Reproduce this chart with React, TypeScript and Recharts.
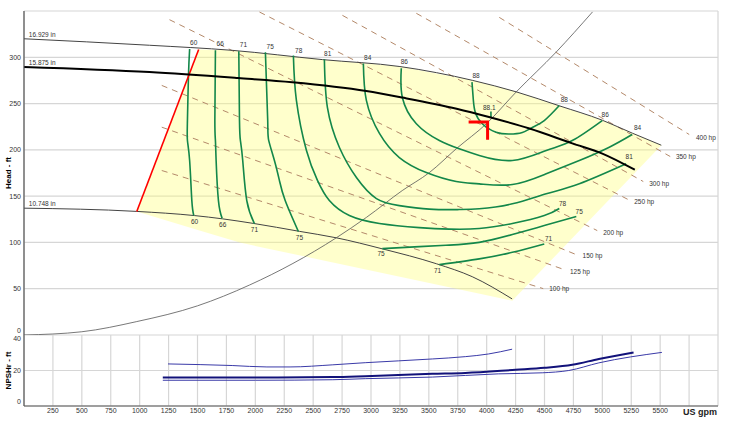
import React from 'react';
import { ComposedChart, Line, Area, Scatter, XAxis, YAxis, CartesianGrid } from 'recharts';

type P = [number, number];

// x = US gpm, y = head ft
const xTicks = [250, 500, 750, 1000, 1250, 1500, 1750, 2000, 2250, 2500, 2750, 3000, 3250, 3500, 3750, 4000, 4250, 4500, 4750, 5000, 5250, 5500, 5750];
const headTicks = [0, 50, 100, 150, 200, 250, 300];
const npshTicks = [0, 20, 40];

// impeller curves
const imp16929: P[] = [[0, 320], [1085, 313], [1800, 307.5], [2580, 297.5], [3250, 290], [3880, 275], [4260, 262.5], [4630, 247.5], [5000, 232], [5260, 218], [5510, 205]];
const imp15875: P[] = [[0, 289.5], [1085, 284], [1850, 277.5], [2320, 273], [2960, 263.5], [3270, 256.5], [3740, 244.5], [4020, 235.5], [4370, 223], [4740, 207], [5000, 196], [5280, 178.5]];
const imp10748: P[] = [[0, 137], [975, 133.5], [1475, 129], [1715, 125.5], [1985, 120.5], [2380, 112], [2700, 105], [3100, 93], [3565, 77], [3875, 63], [4220, 39]];
const systemCurve: P[] = [[0, 0], [500, 3.5], [975, 14.5], [1500, 31.5], [1950, 54], [2700, 105], [2960, 127], [3270, 156], [3505, 175.5], [3740, 201.5], [4000, 228.5], [4255, 262.5], [4600, 305.5], [4915, 349]];
const minFlowLine: P[] = [[975, 133.5], [1510, 308.5]];
const bepMark: P[] = [[3844, 230], [4008, 230], [4008, 211]];
const bepTick: P[] = [[4037, 235], [4037, 241.5]];

// allowed operating region
const regionQ = [975, 1510, 1800, 1865, 2580, 3250, 3880, 4222, 4260, 4630, 5000, 5260, 5510];
const regionLow = [133.5, 113.2, 102.3, 99.8, 80.8, 62.9, 46.1, 37, 42, 90.2, 138.5, 172.4, 205];
const regionHigh = [133.5, 308.5, 307.5, 306.8, 297.5, 290, 275, 264, 262.5, 247.5, 232, 218, 205];

// efficiency contours
const eff60: P[] = [[1432, 309], [1422, 280.4], [1413, 231.7], [1413, 210.1], [1432, 188.5], [1451, 145.2], [1468, 129]];
const eff66: P[] = [[1655, 307.5], [1650, 231.7], [1655, 210], [1661, 188.5], [1681, 145.2], [1713, 126]];
const eff71a: P[] = [[1857, 306.5], [1863, 231.7], [1871, 210], [1891, 188.5], [1926, 145.2], [1992, 120.4]];
const eff71b: P[] = [[3591, 76], [3936, 82.2], [4222, 89.3], [4498, 98.4]];
const eff75a: P[] = [[2087, 305.5], [2107, 231.7], [2116, 210], [2165, 188.5], [2208, 167], [2258, 145.2], [2372, 111.8]];
const eff75b: P[] = [[3098, 93.3], [3418, 95.5], [3677, 97.1], [3936, 100.1], [4222, 108.5], [4498, 118.2], [4775, 127.9]];
const eff78: P[] = [[2329, 302], [2355, 253.5], [2442, 199.3], [2537, 167], [2640, 145.2], [2813, 129], [3073, 120.4], [3418, 116], [3677, 114.4], [3936, 115], [4222, 120.4], [4498, 129], [4628, 136.6]];
const eff81: P[] = [[2597, 297.8], [2623, 245.8], [2727, 202.5], [2874, 170.1], [3047, 147.4], [3245, 139.8], [3504, 136], [3763, 135.5], [3936, 136.3], [4222, 141.7], [4515, 152.5], [4801, 163.3], [5206, 184.9]];
const eff84: P[] = [[2934, 293.4], [2960, 253.5], [3073, 217.7], [3245, 191.7], [3478, 175.5], [3737, 165.8], [3936, 163.3], [4222, 162.5], [4515, 174.1], [4801, 188.5], [5060, 202.9], [5258, 216.6]];
const eff86: P[] = [[3262, 288.2], [3271, 256.6], [3392, 228.2], [3591, 210.1], [3763, 201.1], [3936, 193.9], [4222, 188.5], [4515, 199.3], [4740, 210.1], [4999, 231.7]];
const eff88: P[] = [[3873, 273.2], [3885, 253.5], [3902, 240.4], [3962, 228.2], [4081, 219.1], [4196, 217.1], [4308, 218.8], [4394, 224.2], [4498, 231.7], [4628, 247.9]];

// power lines (hp)
const hp100: P[] = [[1191, 177.7], [4489, 50.1]];
const hp125: P[] = [[1191, 224.5], [4671, 70.6]];
const hp150: P[] = [[1191, 269.6], [4775, 86.8]];
const hp200: P[] = [[1258, 340.6], [4956, 112.8]];
const hp250: P[] = [[2036, 348.9], [5224, 146.3]];
const hp300: P[] = [[2753, 345.3], [5354, 165.8]];
const hp350: P[] = [[3392, 347.5], [5587, 192.8]];
const hp400: P[] = [[4109, 343.1], [5751, 216.6]];

// NPSHr curves
const npshA: P[] = [[1245, 23.7], [1800, 22.8], [2100, 22], [2300, 22], [2670, 23.2], [2950, 24.4], [3530, 26.5], [3815, 27.8], [4015, 29.3], [4220, 32]];
const npshB: P[] = [[1200, 16], [2000, 16], [2670, 16.3], [2950, 16.8], [3530, 18.1], [3815, 18.6], [4250, 20.4], [4500, 21.5], [4740, 23.2], [4970, 26.5], [5270, 30.2]];
const npshC: P[] = [[1200, 14.5], [2000, 14.5], [2670, 14.8], [2950, 15.4], [3530, 16.3], [4100, 18.1], [4480, 18.7], [4710, 20], [4970, 24.3], [5515, 30.2]];

// labels
const effLabels = [
  { q: 1467, h: 315.3, t: '60' }, { q: 1696, h: 314.7, t: '66' }, { q: 1897, h: 313.6, t: '71' },
  { q: 2128, h: 311, t: '75' }, { q: 2375, h: 306.7, t: '78' }, { q: 2626, h: 303.9, t: '81' },
  { q: 2971, h: 299.1, t: '84' }, { q: 3288, h: 294.8, t: '86' }, { q: 3908, h: 279.7, t: '88' },
  { q: 4671, h: 254.1, t: '88' }, { q: 5025, h: 237.9, t: '86' }, { q: 5304, h: 223.4, t: '84' },
  { q: 5232, h: 192.8, t: '81' }, { q: 4656, h: 142.3, t: '78' }, { q: 4800, h: 133.7, t: '75' },
  { q: 4535, h: 104.5, t: '71' }, { q: 1474, h: 122.5, t: '60' }, { q: 1718, h: 119, t: '66' },
  { q: 1992, h: 113.9, t: '71' }, { q: 2381, h: 105.5, t: '75' }, { q: 3087, h: 87.6, t: '75' },
  { q: 3576, h: 69.5, t: '71' }, { q: 4023, h: 245.5, t: '88.1' },
];
const powerLabels = [
  { q: 4541, h: 49.7, t: '100 hp' }, { q: 4720, h: 68.8, t: '125 hp' }, { q: 4829, h: 85.8, t: '150 hp' },
  { q: 5008, h: 111, t: '200 hp' }, { q: 5276, h: 144.5, t: '250 hp' }, { q: 5405, h: 163.9, t: '300 hp' },
  { q: 5636, h: 192.1, t: '350 hp' }, { q: 5809, h: 212.8, t: '400 hp' },
];
const impLabels = [
  { q: 42, h: 324.4, t: '16.929 in' }, { q: 42, h: 293.7, t: '15.875 in' }, { q: 42, h: 141.7, t: '10.748 in' },
];

const pts = (a: P[]) => a.map(([q, h]) => ({ q, h }));
const regionData = regionQ.map((q, i) => ({ q, r: [regionLow[i], regionHigh[i]] }));

const FONT = 'Arial, "Liberation Sans", sans-serif';
const GREEN = '#13874a';
const DASH = '#b4896a';

function curve(key: string, data: P[], stroke: string, width: number, type: any = 'monotone', dash?: string) {
  return (
    <Line key={key} data={pts(data)} dataKey="h" type={type} stroke={stroke} strokeWidth={width}
      strokeDasharray={dash} dot={false} activeDot={false} isAnimationActive={false} />
  );
}

const textShape = (anchor: 'start' | 'middle', size: number) => (props: any) => (
  <text x={props.cx} y={props.cy} dy="0.35em" textAnchor={anchor} fontSize={size} fill="#333" fontFamily={FONT}>
    {props.payload.t}
  </text>
);

function HeadTick({ x, y, payload }: any) {
  const shift = payload.value === 0 ? -4 : 0;
  return (
    <text x={x} y={y + shift} dy="0.35em" textAnchor="end" fontSize={7} fill="#333" fontFamily={FONT}>{String(payload.value)}</text>
  );
}

// the bottom label is lifted a little so it stays clear of the x axis band
function NpshTick({ x, y, payload }: any) {
  const shift = payload.value === 40 ? 4 : payload.value === 0 ? -4 : 0;
  return (
    <text x={x} y={y + shift} dy="0.35em" textAnchor="end" fontSize={7} fill="#333" fontFamily={FONT}>{String(payload.value)}</text>
  );
}

export default function App() {
  const effCurves = [eff60, eff66, eff71a, eff71b, eff75a, eff75b, eff78, eff81, eff84, eff86, eff88];
  const powerCurves = [hp100, hp125, hp150, hp200, hp250, hp300, hp350, hp400];

  return (
    <div style={{ position: 'absolute', left: 0, top: 0, width: 732, height: 428, background: '#fff', fontFamily: FONT }}>
      <ComposedChart width={732} height={335} margin={{ top: 11, right: 14, left: 0, bottom: 0 }}>
        <CartesianGrid stroke="#d6d6d6" strokeWidth={1.2} />
        <XAxis dataKey="q" type="number" domain={[0, 6000]} ticks={xTicks} allowDataOverflow interval={0}
          height={0} tick={false} tickLine={false} axisLine={{ stroke: '#555', strokeWidth: 1.2 }} />
        <YAxis type="number" domain={[0, 350]} ticks={headTicks} allowDataOverflow width={24} interval={0}
          tickSize={0} tickMargin={3} tick={<HeadTick />} axisLine={{ stroke: '#555', strokeWidth: 1.2 }}
          label={{ value: 'Head - ft', angle: -90, position: 'center', dx: -4, style: { fontSize: 8, fontWeight: 'bold', fill: '#000', fontFamily: FONT } }} />
        <Area data={regionData} dataKey="r" type="linear" stroke="none" fill="#ffff80" fillOpacity={0.4} isAnimationActive={false} activeDot={false} />
        {powerCurves.map((c, i) => curve('hp' + i, c, DASH, 1, 'linear', '6 5'))}
        {curve('sys', systemCurve, '#555', 0.8)}
        {curve('imp1', imp16929, '#444', 1)}
        {curve('imp3', imp10748, '#444', 1)}
        {effCurves.map((c, i) => curve('eff' + i, c, GREEN, 1.6, 'natural'))}
        {curve('bept', bepTick, GREEN, 1.6, 'linear')}
        {curve('minflow', minFlowLine, '#ff0000', 1.6, 'linear')}
        {curve('imp2', imp15875, '#000', 2)}
        {curve('bep', bepMark, '#ff0000', 3, 'linear')}
        <Scatter data={effLabels} dataKey="h" shape={textShape('middle', 6.5)} isAnimationActive={false} />
        <Scatter data={powerLabels} dataKey="h" shape={textShape('start', 6.5)} isAnimationActive={false} />
        <Scatter data={impLabels} dataKey="h" shape={textShape('start', 6.5)} isAnimationActive={false} />
      </ComposedChart>
      <ComposedChart width={732} height={93} margin={{ top: 0, right: 14, left: 0, bottom: 0 }}>
        <CartesianGrid stroke="#d6d6d6" strokeWidth={1.2} />
        <XAxis dataKey="q" type="number" domain={[0, 6000]} ticks={xTicks} height={22} interval={0}
          tickSize={0} tickMargin={2} tickLine={false} axisLine={{ stroke: '#555', strokeWidth: 1.2 }}
          tick={{ fontSize: 7, fill: '#333', fontFamily: FONT }}
          tickFormatter={(v: number) => (v === 5750 ? '' : String(v))}
          label={{ value: 'US gpm', position: 'insideRight', offset: 1, dy: -5, style: { fontSize: 9, fontWeight: 'bold', fill: '#222', fontFamily: FONT } }} />
        <YAxis type="number" domain={[0, 40]} ticks={npshTicks} width={24} interval={0}
          tickSize={0} tickMargin={3} tickLine={false} axisLine={{ stroke: '#555', strokeWidth: 1.2 }}
          tick={<NpshTick />}
          label={{ value: 'NPSHr - ft', angle: -90, position: 'center', dx: -4, style: { fontSize: 8, fontWeight: 'bold', fill: '#000', fontFamily: FONT } }} />
        {curve('npa', npshA, '#3a3aa8', 1)}
        {curve('npc', npshC, '#3a3aa8', 1)}
        {curve('npb', npshB, '#12127a', 2)}
      </ComposedChart>
    </div>
  );
}
